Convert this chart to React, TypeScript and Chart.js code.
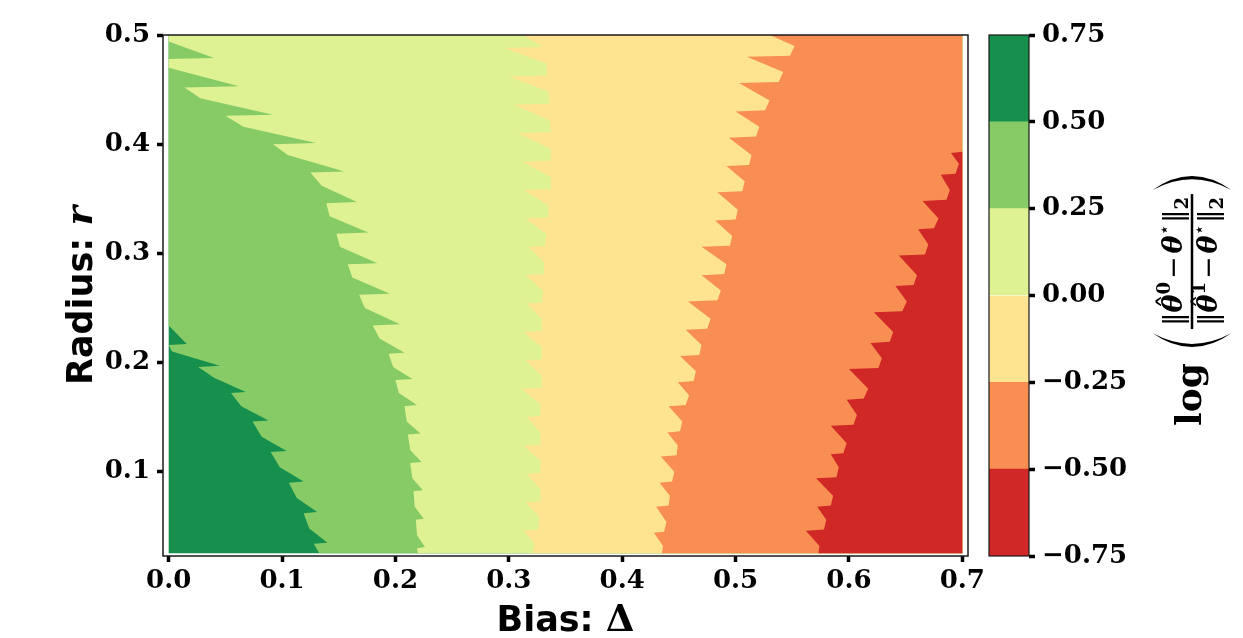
import React, { useEffect, useRef } from 'react';
import { Chart, registerables } from 'chart.js';

Chart.register(...registerables);

// ---------------- data ----------------
const deltaTicks = [0, 0.1, 0.2, 0.3, 0.4, 0.5, 0.6, 0.7];
const deltaTickLabels = ['0.0', '0.1', '0.2', '0.3', '0.4', '0.5', '0.6', '0.7'];
const radiusTicks = [0.1, 0.2, 0.3, 0.4, 0.5];
const radiusTickLabels = ['0.1', '0.2', '0.3', '0.4', '0.5'];
const levels = [-0.75, -0.5, -0.25, 0, 0.25, 0.5, 0.75];
const levelLabels = ['−0.75', '−0.50', '−0.25', '0.00', '0.25', '0.50', '0.75'];
// colour of each band, from the lowest level (-0.75..-0.5) to the highest (0.5..0.75)
const bandColors = ['#cf2827', '#f88e52', '#fee491', '#dff293', '#86cb66', '#16904c'];

// contour boundaries, as [radius r, bias Δ] pairs
const leftEdge: [number, number][] = [[0.025, 0], [0.5, 0]];
const darkGreenEdge: [number, number][] = [
  [0.025, 0.133],
  [0.034, 0.128], [0.035, 0.140], [0.048, 0.124],
  [0.062, 0.119], [0.063, 0.131], [0.076, 0.113],
  [0.090, 0.106], [0.091, 0.119], [0.104, 0.098],
  [0.118, 0.090], [0.119, 0.104], [0.132, 0.082],
  [0.146, 0.074], [0.147, 0.088], [0.160, 0.064],
  [0.172, 0.055], [0.173, 0.068], [0.186, 0.040],
  [0.196, 0.026], [0.197, 0.045], [0.210, 0.003],
  [0.216, 0.000], [0.217, 0.016], [0.234, 0.000],
  [0.500, 0.000],
];
const midGreenEdge: [number, number][] = [
  [0.025, 0.220],
  [0.030, 0.219], [0.031, 0.226], [0.042, 0.219],
  [0.056, 0.218], [0.057, 0.225], [0.068, 0.217],
  [0.082, 0.216], [0.083, 0.224], [0.094, 0.215],
  [0.108, 0.213], [0.109, 0.223], [0.120, 0.213],
  [0.134, 0.211], [0.135, 0.222], [0.146, 0.210],
  [0.160, 0.208], [0.161, 0.219], [0.172, 0.203],
  [0.184, 0.200], [0.185, 0.215], [0.196, 0.198],
  [0.208, 0.194], [0.209, 0.208], [0.222, 0.186],
  [0.234, 0.180], [0.235, 0.204], [0.250, 0.173],
  [0.262, 0.168], [0.263, 0.195], [0.278, 0.162],
  [0.290, 0.158], [0.291, 0.184], [0.306, 0.151],
  [0.318, 0.148], [0.319, 0.176], [0.334, 0.142],
  [0.346, 0.139], [0.347, 0.166], [0.362, 0.135],
  [0.374, 0.125], [0.375, 0.155], [0.390, 0.105],
  [0.400, 0.092], [0.401, 0.130], [0.416, 0.066],
  [0.426, 0.050], [0.427, 0.092], [0.442, 0.028],
  [0.452, 0.014], [0.453, 0.062], [0.470, 0.000],
  [0.478, 0.000], [0.479, 0.040], [0.494, 0.000],
  [0.500, 0.000],
];
const lightGreenEdge: [number, number][] = [
  [0.025, 0.321],
  [0.034, 0.323], [0.046, 0.313], [0.047, 0.326],
  [0.058, 0.327], [0.072, 0.315], [0.073, 0.328],
  [0.084, 0.328], [0.098, 0.316], [0.099, 0.328],
  [0.110, 0.328], [0.124, 0.313], [0.125, 0.328],
  [0.136, 0.328], [0.150, 0.316], [0.151, 0.328],
  [0.162, 0.328], [0.176, 0.311], [0.177, 0.329],
  [0.188, 0.329], [0.202, 0.315], [0.203, 0.329],
  [0.214, 0.329], [0.228, 0.313], [0.229, 0.329],
  [0.240, 0.329], [0.254, 0.316], [0.255, 0.329],
  [0.266, 0.330], [0.280, 0.315], [0.281, 0.331],
  [0.292, 0.331], [0.306, 0.317], [0.307, 0.332],
  [0.318, 0.333], [0.332, 0.315], [0.333, 0.335],
  [0.344, 0.335], [0.358, 0.313], [0.359, 0.337],
  [0.370, 0.337], [0.384, 0.312], [0.385, 0.337],
  [0.396, 0.337], [0.410, 0.308], [0.411, 0.337],
  [0.422, 0.336], [0.436, 0.304], [0.437, 0.336],
  [0.448, 0.335], [0.462, 0.300], [0.463, 0.334],
  [0.474, 0.333], [0.488, 0.296], [0.489, 0.330],
  [0.500, 0.312],
];
const yellowEdge: [number, number][] = [
  [0.025, 0.435],
  [0.032, 0.436], [0.044, 0.428], [0.045, 0.437],
  [0.054, 0.439], [0.068, 0.430], [0.069, 0.441],
  [0.078, 0.442], [0.090, 0.433], [0.091, 0.444],
  [0.100, 0.446], [0.114, 0.434], [0.115, 0.448],
  [0.124, 0.449], [0.136, 0.440], [0.137, 0.451],
  [0.146, 0.453], [0.160, 0.441], [0.161, 0.456],
  [0.170, 0.459], [0.182, 0.449], [0.183, 0.463],
  [0.192, 0.465], [0.206, 0.451], [0.207, 0.468],
  [0.216, 0.470], [0.230, 0.456], [0.231, 0.475],
  [0.240, 0.478], [0.256, 0.458], [0.257, 0.484],
  [0.266, 0.487], [0.280, 0.470], [0.281, 0.490],
  [0.290, 0.492], [0.306, 0.470], [0.307, 0.495],
  [0.316, 0.497], [0.330, 0.482], [0.331, 0.500],
  [0.340, 0.502], [0.356, 0.484], [0.357, 0.506],
  [0.366, 0.508], [0.380, 0.492], [0.381, 0.512],
  [0.390, 0.514], [0.406, 0.494], [0.407, 0.518],
  [0.416, 0.521], [0.430, 0.500], [0.431, 0.526],
  [0.440, 0.530], [0.456, 0.503], [0.457, 0.538],
  [0.466, 0.542], [0.480, 0.510], [0.481, 0.548],
  [0.490, 0.552], [0.500, 0.530],
];
const redEdge: [number, number][] = [
  [0.025, 0.573],
  [0.032, 0.574], [0.046, 0.562], [0.047, 0.578],
  [0.056, 0.580], [0.068, 0.572], [0.069, 0.584],
  [0.078, 0.586], [0.094, 0.571], [0.095, 0.589],
  [0.104, 0.591], [0.116, 0.584], [0.117, 0.595],
  [0.126, 0.598], [0.142, 0.584], [0.143, 0.604],
  [0.152, 0.607], [0.166, 0.598], [0.167, 0.613],
  [0.176, 0.617], [0.194, 0.600], [0.195, 0.626],
  [0.204, 0.629], [0.218, 0.619], [0.219, 0.636],
  [0.228, 0.639], [0.246, 0.622], [0.247, 0.647],
  [0.256, 0.651], [0.270, 0.641], [0.271, 0.657],
  [0.280, 0.660], [0.298, 0.644], [0.299, 0.667],
  [0.308, 0.670], [0.322, 0.661], [0.323, 0.675],
  [0.332, 0.679], [0.348, 0.665], [0.349, 0.686],
  [0.358, 0.689], [0.372, 0.681], [0.373, 0.694],
  [0.382, 0.697], [0.392, 0.690], [0.393, 0.700],
  [0.500, 0.700],
];
const rightEdge: [number, number][] = [[0.025, 0.7], [0.5, 0.7]];

const xTitle = ['Bias: ', 'Δ'];
const yTitle = ['Radius: ', 'r'];
const cbarFn = 'log';
const cbarNumSup = '0';
const cbarDenSup = '1';

// ---------------- helpers ----------------
const toPoints = (arr: [number, number][]) => arr.map(([r, d]) => ({ x: d, y: r }));
const tickFont = { family: '"DejaVu Serif"', size: 26, weight: 'bold' as const };

const framePlugin = (lw: number) => ({
  id: 'frame',
  afterDatasetsDraw(chart: any) {
    const { ctx, chartArea: a } = chart;
    ctx.save();
    ctx.strokeStyle = '#1a1a1a';
    ctx.lineWidth = lw;
    ctx.strokeRect(a.left, a.top, a.right - a.left, a.bottom - a.top);
    ctx.restore();
  },
});

const titlesPlugin = {
  id: 'titles',
  afterDraw(chart: any) {
    const { ctx, chartArea: a } = chart;
    const sans = 'bold 35px "DejaVu Sans"';
    const mathX = 'bold 37px "DejaVu Serif"';
    const mathY = 'bold italic 37px "DejaVu Serif"';
    ctx.save();
    ctx.fillStyle = '#000';
    ctx.textBaseline = 'alphabetic';
    ctx.textAlign = 'left';
    // x title
    ctx.font = sans;
    const w1 = ctx.measureText(xTitle[0]).width;
    ctx.font = mathX;
    const w2 = ctx.measureText(xTitle[1]).width;
    const cx = (a.left + a.right) / 2;
    const x0 = cx - (w1 + w2) / 2;
    ctx.font = sans;
    ctx.fillText(xTitle[0], x0, a.bottom + 75);
    ctx.font = mathX;
    ctx.fillText(xTitle[1], x0 + w1, a.bottom + 75);
    // y title
    ctx.font = sans;
    const v1 = ctx.measureText(yTitle[0]).width;
    ctx.font = mathY;
    const v2 = ctx.measureText(yTitle[1]).width;
    ctx.translate(a.left - 71, (a.top + a.bottom) / 2);
    ctx.rotate(-Math.PI / 2);
    const y0 = -(v1 + v2) / 2;
    ctx.font = sans;
    ctx.fillText(yTitle[0], y0, 0);
    ctx.font = mathY;
    ctx.fillText(yTitle[1], y0 + v1, 0);
    ctx.restore();
  },
};

function drawNorm(ctx: CanvasRenderingContext2D, x: number, baseline: number, sup: string, measureOnly: boolean) {
  const F2 = 27;
  const F3 = 18;
  const fNorm = `${F2}px "DejaVu Sans"`;
  const fTheta = `bold italic ${F2}px "DejaVu Serif"`;
  const fSmall = `bold ${F3}px "DejaVu Serif"`;
  const fStar = `${F3}px "DejaVu Sans"`;
  const fMinus = `${F2}px "DejaVu Sans"`;
  const runs = [
    { t: '‖', f: fNorm, dy: 0, gap: 0, hat: false },
    { t: 'θ', f: fTheta, dy: 0, gap: 0, hat: true },
    { t: sup, f: fSmall, dy: -12, gap: 3, hat: false },
    { t: '−', f: fMinus, dy: 0, gap: 3, hat: false },
    { t: 'θ', f: fTheta, dy: 0, gap: 0, hat: false },
    { t: '⋆', f: fStar, dy: -12, gap: 1, hat: false },
    { t: '‖', f: fNorm, dy: 0, gap: 0, hat: false },
    { t: '2', f: fSmall, dy: 6, gap: 0, hat: false },
  ];
  let cx = x;
  for (const r of runs) {
    ctx.font = r.f;
    const w = ctx.measureText(r.t).width;
    if (!measureOnly) {
      ctx.fillText(r.t, cx, baseline + r.dy);
      if (r.hat) {
        ctx.font = `30px "DejaVu Serif"`;
        const hw = ctx.measureText('ˆ').width;
        ctx.fillText('ˆ', cx + w / 2 + 2 - hw / 2, baseline - 3);
      }
    }
    cx += w + r.gap;
  }
  return cx - x;
}

function drawParen(ctx: CanvasRenderingContext2D, x: number, w: number, h: number, open: boolean) {
  ctx.beginPath();
  if (open) {
    ctx.moveTo(x + w, -h / 2);
    ctx.quadraticCurveTo(x - w, 0, x + w, h / 2);
    ctx.lineTo(x + w - 0.8, h / 2 - 1);
    ctx.quadraticCurveTo(x - w + 7, 0, x + w - 0.8, -h / 2 + 1);
  } else {
    ctx.moveTo(x, -h / 2);
    ctx.quadraticCurveTo(x + 2 * w, 0, x, h / 2);
    ctx.lineTo(x + 0.8, h / 2 - 1);
    ctx.quadraticCurveTo(x + 2 * w - 7, 0, x + 0.8, -h / 2 + 1);
  }
  ctx.closePath();
  ctx.fill();
}

const cbarLabelPlugin = {
  id: 'cbarLabel',
  afterDraw(chart: any) {
    const ctx: CanvasRenderingContext2D = chart.ctx;
    ctx.save();
    ctx.fillStyle = '#000';
    ctx.textBaseline = 'alphabetic';
    ctx.textAlign = 'left';
    const logFont = 'bold 36px "DejaVu Serif"';
    ctx.font = logFont;
    const wLog = ctx.measureText(cbarFn).width;
    const wNum = drawNorm(ctx, 0, 0, cbarNumSup, true);
    const wDen = drawNorm(ctx, 0, 0, cbarDenSup, true);
    const wFrac = Math.max(wNum, wDen) + 6;
    const parenW = 15;
    const parenH = 82;
    const gLog = 16;
    const gPar = 3;
    const total = wLog + gLog + parenW + gPar + wFrac + gPar + parenW;
    ctx.translate(212, 301);
    ctx.rotate(-Math.PI / 2);
    let lx = -total / 2;
    ctx.font = logFont;
    ctx.fillText(cbarFn, lx, 9);
    lx += wLog + gLog;
    drawParen(ctx, lx, parenW, parenH, true);
    lx += parenW + gPar;
    ctx.fillRect(lx, -1.25, wFrac, 2.5);
    drawNorm(ctx, lx + (wFrac - wNum) / 2, -10, cbarNumSup, false);
    drawNorm(ctx, lx + (wFrac - wDen) / 2, 25, cbarDenSup, false);
    lx += wFrac + gPar;
    drawParen(ctx, lx, parenW, parenH, false);
    ctx.restore();
  },
};

export default function App() {
  const mainRef = useRef<HTMLCanvasElement>(null);
  const cbRef = useRef<HTMLCanvasElement>(null);

  useEffect(() => {
    const boundaries = [redEdge, yellowEdge, lightGreenEdge, midGreenEdge, darkGreenEdge, leftEdge];
    const datasets: any[] = boundaries.map((b, i) => ({
      data: toPoints(b),
      fill: boundaries.length,
      backgroundColor: bandColors[i],
      borderColor: 'rgba(0,0,0,0)',
      borderWidth: 0,
      pointRadius: 0,
      pointHoverRadius: 0,
      tension: 0,
    }));
    datasets.push({
      data: toPoints(rightEdge),
      fill: false,
      backgroundColor: 'rgba(0,0,0,0)',
      borderColor: 'rgba(0,0,0,0)',
      borderWidth: 0,
      pointRadius: 0,
      tension: 0,
    });

    const main = new Chart(mainRef.current!, {
      type: 'line',
      data: { datasets },
      options: {
        indexAxis: 'y',
        animation: false,
        responsive: false,
        events: [],
        layout: { padding: { left: 0, right: 32, top: 35, bottom: 0 } },
        plugins: { legend: { display: false }, tooltip: { enabled: false } },
        scales: {
          x: {
            type: 'linear',
            position: 'bottom',
            min: -0.005,
            max: 0.705,
            afterBuildTicks: (s: any) => { s.ticks = deltaTicks.map((v) => ({ value: v })); },
            afterFit: (s: any) => { s.height = 82; s.paddingLeft = 0; s.paddingRight = 0; },
            ticks: {
              callback: (_v: any, i: number) => deltaTickLabels[i],
              font: tickFont,
              color: '#000',
              padding: 4,
              autoSkip: false,
              maxRotation: 0,
              minRotation: 0,
            },
            grid: { drawOnChartArea: false, drawTicks: true, tickLength: 6, tickWidth: 3.5, tickColor: '#000' },
            border: { display: false },
          },
          y: {
            type: 'linear',
            position: 'left',
            min: 0.0228,
            max: 0.5,
            afterBuildTicks: (s: any) => { s.ticks = radiusTicks.map((v) => ({ value: v })); },
            afterFit: (s: any) => { s.width = 163; s.paddingTop = 0; s.paddingBottom = 0; },
            ticks: {
              callback: (_v: any, i: number) => radiusTickLabels[i],
              font: tickFont,
              color: '#000',
              padding: 7,
              autoSkip: false,
            },
            grid: { drawOnChartArea: false, drawTicks: true, tickLength: 6, tickWidth: 3.5, tickColor: '#000' },
            border: { display: false },
          },
        },
      } as any,
      plugins: [framePlugin(1.5), titlesPlugin],
    });

    const cbar = new Chart(cbRef.current!, {
      type: 'bar',
      data: {
        labels: [''],
        datasets: bandColors.map((c, i) => ({
          data: [[levels[i], levels[i + 1]]],
          backgroundColor: c,
          borderWidth: 0,
          barPercentage: 1,
          categoryPercentage: 1,
          grouped: false,
        })) as any,
      },
      options: {
        animation: false,
        responsive: false,
        events: [],
        layout: { padding: { left: 9, right: 114, top: 35, bottom: 82 } },
        plugins: { legend: { display: false }, tooltip: { enabled: false } },
        scales: {
          x: { display: false },
          y: {
            type: 'linear',
            position: 'right',
            min: -0.75,
            max: 0.75,
            afterBuildTicks: (s: any) => { s.ticks = levels.map((v) => ({ value: v })); },
            afterFit: (s: any) => { s.width = 100; s.paddingTop = 0; s.paddingBottom = 0; },
            ticks: {
              callback: (_v: any, i: number) => levelLabels[i],
              font: tickFont,
              color: '#000',
              padding: 7,
              autoSkip: false,
            },
            grid: { drawOnChartArea: false, drawTicks: true, tickLength: 6, tickWidth: 3.5, tickColor: '#000' },
            border: { display: false },
          },
        },
      } as any,
      plugins: [framePlugin(1.2), cbarLabelPlugin],
    });

    return () => {
      main.destroy();
      cbar.destroy();
    };
  }, []);

  return (
    <div style={{ position: 'absolute', left: 0, top: 0, width: 1243, height: 638, background: '#fff' }}>
      <canvas
        ref={mainRef}
        width={1000}
        height={638}
        style={{ position: 'absolute', left: 0, top: 0, width: 1000, height: 638 }}
      />
      <canvas
        ref={cbRef}
        width={263}
        height={638}
        style={{ position: 'absolute', left: 980, top: 0, width: 263, height: 638 }}
      />
    </div>
  );
}
